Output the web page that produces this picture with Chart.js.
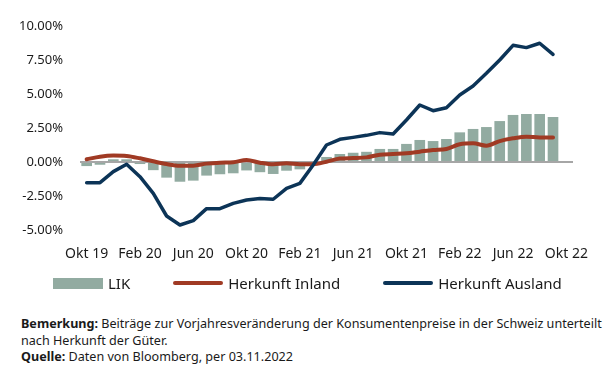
<!DOCTYPE html>
<html><head><meta charset="utf-8">
<script src="https://cdn.jsdelivr.net/npm/chart.js@4/dist/chart.umd.min.js"></script>
<style>
html,body{margin:0;padding:0;background:#fff;}
body{width:616px;height:379px;position:relative;overflow:hidden;font-family:"Noto Sans",sans-serif;color:#1a1a1a;}
#wrap{position:absolute;left:0;top:0;width:616px;height:275px;}
#legend{position:absolute;top:273px;left:53px;height:20px;display:flex;align-items:center;font-size:15px;white-space:nowrap;}
.item{display:flex;align-items:center;margin-right:43px;}
.sw{width:50px;margin-right:5px;}
#notes{position:absolute;left:21px;top:316px;font-size:12.6px;line-height:16.5px;white-space:nowrap;}
</style></head><body>
<div id="wrap"><canvas id="c" width="616" height="275"></canvas></div>
<div id="legend"></div>
<div id="notes"><b>Bemerkung:</b> Beiträge zur Vorjahresveränderung der Konsumentenpreise in der Schweiz unterteilt<br>nach Herkunft der Güter.<br><b>Quelle:</b> Daten von Bloomberg, per 03.11.2022</div>
<script>
const months = ["Okt 19","Nov 19","Dez 19","Jan 20","Feb 20","Mär 20","Apr 20","Mai 20","Jun 20","Jul 20","Aug 20","Sep 20",
  "Okt 20","Nov 20","Dez 20","Jan 21","Feb 21","Mär 21","Apr 21","Mai 21","Jun 21","Jul 21","Aug 21","Sep 21",
  "Okt 21","Nov 21","Dez 21","Jan 22","Feb 22","Mär 22","Apr 22","Mai 22","Jun 22","Jul 22","Aug 22","Sep 22","Okt 22"];
const lik = [-0.3,-0.2,0.2,0.2,-0.15,-0.6,-1.15,-1.45,-1.37,-1.0,-0.9,-0.83,-0.62,-0.75,-0.88,-0.64,-0.54,-0.1,
  0.37,0.59,0.68,0.75,0.96,0.96,1.33,1.62,1.54,1.69,2.18,2.43,2.57,3.01,3.46,3.53,3.53,3.31];
const inland = [0.2,0.39,0.47,0.44,0.27,0.05,-0.15,-0.27,-0.27,-0.12,-0.05,-0.02,0.15,-0.05,-0.17,-0.1,-0.17,-0.17,
  0.02,0.25,0.29,0.34,0.54,0.59,0.64,0.76,0.88,0.96,1.3,1.37,1.2,1.54,1.74,1.86,1.81,1.81];
const ausland = [-1.52,-1.52,-0.71,-0.17,-1.08,-2.3,-3.97,-4.63,-4.31,-3.43,-3.43,-3.04,-2.79,-2.69,-2.74,-1.94,-1.57,-0.22,
  1.25,1.67,1.81,1.96,2.16,2.06,3.09,4.19,3.77,3.99,4.93,5.59,6.52,7.5,8.58,8.41,8.73,7.92];
const yTicks = [-5,-2.5,0,2.5,5,7.5,10];
const seriesNames = ["LIK","Herkunft Inland","Herkunft Ausland"];

const C_BAR = '#92aba1', C_IN = '#a03a24', C_AUS = '#0c3457';

const chart = new Chart(document.getElementById('c'), {
  data: {
    labels: months,
    datasets: [
      {type:'line', label: seriesNames[2], data: ausland, borderColor: C_AUS, backgroundColor: C_AUS,
        borderWidth: 3.5, pointRadius: 0, tension: 0, borderJoinStyle:'round', borderCapStyle:'round', order: 0},
      {type:'line', label: seriesNames[1], data: inland, borderColor: C_IN, backgroundColor: C_IN,
        borderWidth: 4, pointRadius: 0, cubicInterpolationMode:'monotone', borderJoinStyle:'round', borderCapStyle:'round', order: 1},
      {type:'bar', label: seriesNames[0], data: lik, backgroundColor: C_BAR, borderWidth: 0,
        categoryPercentage: 1, barPercentage: 0.8, order: 2}
    ]
  },
  options: {
    responsive: false, animation: false,
    layout: {padding: {left: 0, right: 43, top: 26, bottom: 0}},
    plugins: {legend: {display: false}, tooltip: {enabled: false}},
    scales: {
      x: {
        type: 'category', offset: true,
        grid: {display: false, drawTicks: false}, border: {display: false},
        ticks: {autoSkip: false, maxRotation: 0, minRotation: 0, padding: 16, labelOffset: 0,
          color: '#1a1a1a', font: {family: 'Noto Sans', size: 14},
          callback: function(v, i){ return i % 4 === 0 ? this.getLabelForValue(v) : ''; }},
        afterFit: s => { s.height = 45; }
      },
      y: {
        min: -5, max: 10,
        afterBuildTicks: s => { s.ticks = yTicks.map(v => ({value: v})); },
        grid: {drawTicks: false, color: c => c.tick && c.tick.value === 0 ? '#a6a6a6' : 'rgba(0,0,0,0)', lineWidth: 2},
        border: {display: false},
        ticks: {padding: 17, color: '#1a1a1a', font: {family: 'Noto Sans', size: 13},
          callback: v => v.toFixed(2) + '%'},
        afterFit: s => { s.width = 80; }
      }
    }
  }
});

// HTML legend built from the chart's datasets
const lg = document.getElementById('legend');
[2,1,0].forEach(idx => {
  const ds = chart.data.datasets[idx];
  const it = document.createElement('div'); it.className = 'item';
  const sw = document.createElement('div'); sw.className = 'sw';
  if (ds.type === 'bar') { sw.style.height = '11px'; sw.style.background = ds.backgroundColor; }
  else { sw.style.height = '4px'; sw.style.borderRadius = '2px'; sw.style.background = ds.borderColor; }
  const tx = document.createElement('span'); tx.textContent = ds.label;
  it.appendChild(sw); it.appendChild(tx); lg.appendChild(it);
});
</script>
</body></html>
